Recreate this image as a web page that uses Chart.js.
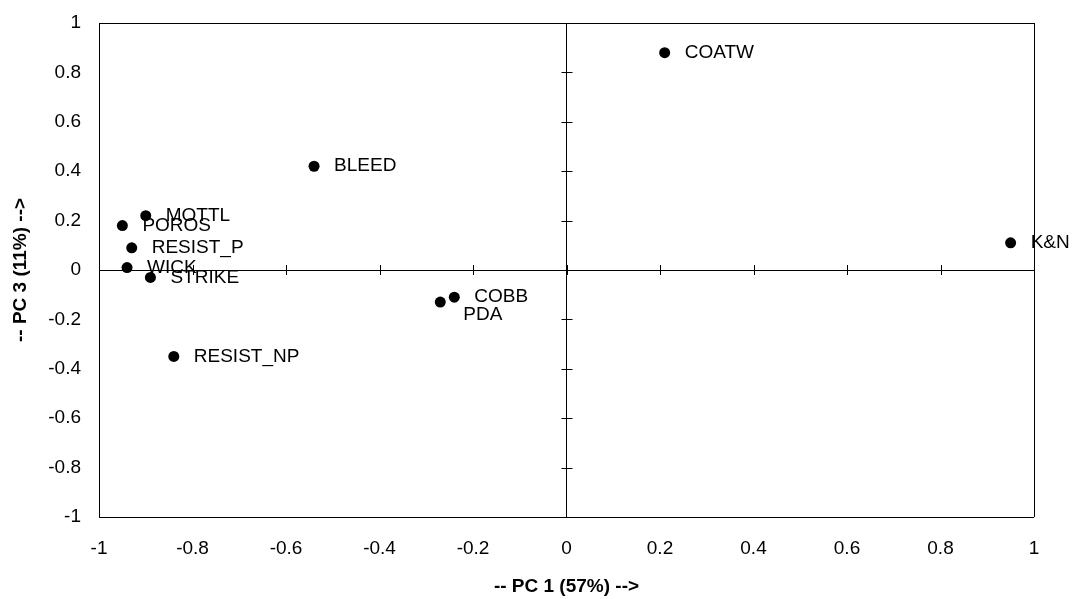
<!DOCTYPE html>
<html>
<head>
<meta charset="utf-8">
<script src="https://cdn.jsdelivr.net/npm/chart.js@4/dist/chart.umd.min.js"></script>
<style>
  html, body { margin: 0; padding: 0; background: #fff; }
  #wrap { width: 1074px; height: 599px; }
</style>
</head>
<body>
<div id="wrap"><canvas id="pca"></canvas></div>
<script>
// PCA loadings, PC 1 vs PC 3
const VARIABLES = ['COATW', 'K&N', 'BLEED', 'MOTTL', 'POROS', 'RESIST_P', 'WICK', 'STRIKE', 'RESIST_NP', 'COBB', 'PDA'];
const PC1 = [0.21, 0.95, -0.54, -0.90, -0.95, -0.93, -0.94, -0.89, -0.84, -0.24, -0.27];
const PC3 = [0.88, 0.11, 0.42, 0.22, 0.18, 0.09, 0.01, -0.03, -0.35, -0.11, -0.13];

const AXIS_MIN = -1;
const AXIS_MAX = 1;
const AXIS_STEP = 0.2;

const FONT = "'Liberation Sans', Arial, sans-serif";

// labels sit to the right of each point; PDA is pushed down so it clears COBB
const LABEL_DX = 20;
const LABEL_NUDGE = { PDA: [3, 13] };

const points = VARIABLES.map((name, i) => ({ x: PC1[i], y: PC3[i], name }));

// black lines only for the frame (-1, 1) and the zero axes
const frameOrZero = ctx => {
  const v = ctx.tick ? ctx.tick.value : null;
  if (v === null) return 'rgba(0,0,0,0)';
  return (Math.abs(v) < 1e-9 || Math.abs(Math.abs(v) - 1) < 1e-9) ? '#000' : 'rgba(0,0,0,0)';
};

const fmt = v => String(Math.round(v * 10) / 10);

// small cross ticks along the zero axes
const axisCrossTicks = {
  id: 'axisCrossTicks',
  afterDraw(chart) {
    const { ctx, scales: { x, y } } = chart;
    const x0 = x.getPixelForValue(0);
    const y0 = y.getPixelForValue(0);
    ctx.save();
    ctx.strokeStyle = '#000';
    ctx.lineWidth = 1;
    ctx.beginPath();
    for (const t of y.ticks) {
      const py = Math.round(y.getPixelForValue(t.value)) + 0.5;
      ctx.moveTo(x0 - 5, py);
      ctx.lineTo(x0 + 6, py);
    }
    for (const t of x.ticks) {
      const px = Math.round(x.getPixelForValue(t.value)) + 0.5;
      ctx.moveTo(px, y0 - 5);
      ctx.lineTo(px, y0 + 5);
    }
    ctx.stroke();
    ctx.restore();
  }
};

const pointNames = {
  id: 'pointNames',
  afterDatasetsDraw(chart) {
    const { ctx } = chart;
    const meta = chart.getDatasetMeta(0);
    ctx.save();
    ctx.fillStyle = '#000';
    ctx.font = '19px ' + FONT;
    ctx.textAlign = 'left';
    ctx.textBaseline = 'middle';
    meta.data.forEach((el, i) => {
      const name = points[i].name;
      const [nx, ny] = LABEL_NUDGE[name] || [0, 0];
      ctx.fillText(name, el.x + LABEL_DX + nx, el.y + ny);
    });
    ctx.restore();
  }
};

new Chart(document.getElementById('pca'), {
  type: 'scatter',
  data: {
    datasets: [{
      data: points,
      pointStyle: 'circle',
      pointRadius: 5.5,
      pointHoverRadius: 5.5,
      backgroundColor: '#000',
      borderColor: '#000',
      borderWidth: 0,
    }],
  },
  options: {
    responsive: true,
    maintainAspectRatio: false,
    animation: false,
    devicePixelRatio: 1,
    layout: { padding: { left: 0, top: 23, right: 40, bottom: 0 } },
    plugins: {
      legend: { display: false },
      tooltip: { enabled: false },
    },
    scales: {
      x: {
        type: 'linear',
        min: AXIS_MIN,
        max: AXIS_MAX,
        afterFit: s => { s.height = 82; s.paddingLeft = 0; s.paddingRight = 0; },
        ticks: {
          stepSize: AXIS_STEP,
          color: '#000',
          font: { family: FONT, size: 19 },
          padding: 20,
          maxRotation: 0,
          callback: fmt,
        },
        grid: { color: frameOrZero, lineWidth: 1, drawTicks: false },
        border: { display: false },
        title: {
          display: true,
          text: '-- PC 1 (57%) -->',
          color: '#000',
          font: { family: FONT, size: 19, weight: 'bold' },
          padding: { top: 0, bottom: 1 },
        },
      },
      y: {
        type: 'linear',
        min: AXIS_MIN,
        max: AXIS_MAX,
        afterFit: s => { s.width = 99; s.paddingTop = 0; s.paddingBottom = 0; },
        ticks: {
          stepSize: AXIS_STEP,
          color: '#000',
          font: { family: FONT, size: 19 },
          padding: 18,
          callback: fmt,
        },
        grid: { color: frameOrZero, lineWidth: 1, drawTicks: false },
        border: { display: false },
        title: {
          display: true,
          text: '-- PC 3 (11%) -->',
          color: '#000',
          font: { family: FONT, size: 19, weight: 'bold' },
          padding: { top: 9, bottom: 0 },
        },
      },
    },
  },
  plugins: [axisCrossTicks, pointNames],
});
</script>
</body>
</html>
